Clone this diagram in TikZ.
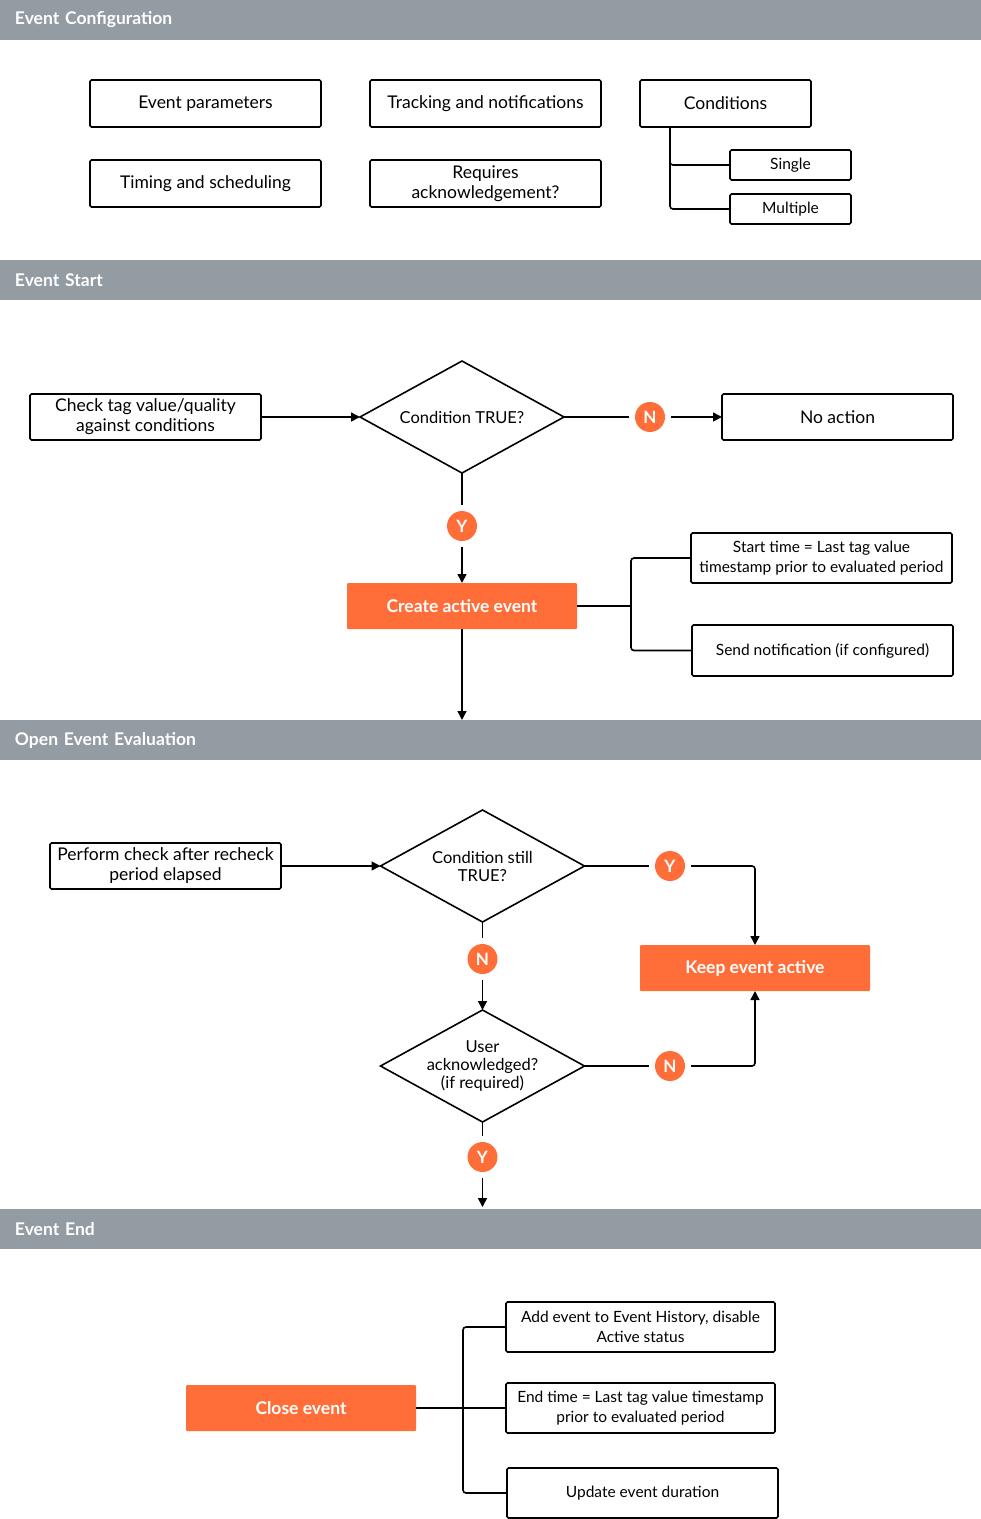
\documentclass[tikz,border=0pt]{standalone}
\usepackage{fontspec}
\setmainfont{Lato}
\usetikzlibrary{shapes.geometric,arrows.meta,calc}
\definecolor{hdrgray}{HTML}{939CA3}
\definecolor{orng}{HTML}{FF6E39}
\begin{document}
\begin{tikzpicture}[x=1pt,y=-1pt,
  every node/.style={inner sep=0pt, outer sep=0pt},
  hdr/.style={fill=hdrgray, anchor=north west, minimum width=981pt, minimum height=40pt, text width=951pt, align=left, text=white, font=\fontsize{17.5}{20}\selectfont\bfseries},
  box/.style={draw=black, line width=1.6pt, rounded corners=1.5pt, fill=white, align=center, font=\fontsize{17.5}{20}\selectfont},
  sbox/.style={box, font=\fontsize{15.5}{20}\selectfont},
  obox/.style={fill=orng, rounded corners=1pt, text=white, align=center, minimum width=230pt, minimum height=46pt, font=\fontsize{17.5}{20}\selectfont\bfseries},
  dia/.style={diamond, draw=black, line width=1.6pt, align=center, minimum width=204pt, minimum height=112pt, aspect=1.82, font=\fontsize{16.5}{18}\selectfont},
  yn/.style={circle, fill=orng, minimum size=30pt, text=white, font=\fontsize{17}{18}\selectfont\bfseries},
  ln/.style={line width=1.6pt},
  arr/.style={line width=1.6pt, -{Triangle[length=9pt,width=9pt]}},
]
\useasboundingbox (0,0) rectangle (981,1519);
% headers
\node[hdr] (h1) at (0,0) {Event Configuration};
\node[hdr] (h2) at (0,260) {Event Start};
\node[hdr] (h3) at (0,720) {Open Event Evaluation};
\node[hdr] (h4) at (0,1209) {Event End};

% Section 1
\node[box, minimum width=231pt, minimum height=47pt] (ep) at (205.5,103.5) {Event parameters};
\node[box, minimum width=231pt, minimum height=47pt] (ts) at (205.5,183.5) {Timing and scheduling};
\node[box, minimum width=231pt, minimum height=47pt] (tn) at (485.5,103.5) {Tracking and notifications};
\node[box, minimum width=231pt, minimum height=47pt] (ra) at (485.5,183.5) {Requires\\acknowledgement?};
\node[box, minimum width=171pt, minimum height=47pt] (co) at (725.5,103.5) {Conditions};
\node[sbox, minimum width=121pt, minimum height=30pt] (si) at (790.5,165) {Single};
\node[sbox, minimum width=121pt, minimum height=30pt] (mu) at (790.5,209) {Multiple};
\coordinate (cotrunk) at (670,127);
\draw[ln, rounded corners=3pt] (cotrunk) |- (si.west);
\draw[ln, rounded corners=3pt] (cotrunk) |- (mu.west);

% Section 2
\node[box, minimum width=231pt, minimum height=46pt] (ck) at (145.5,417) {Check tag value/quality\\against conditions};
\node[dia] (d1) at (462,417) {Condition TRUE?};
\node[yn] (n1) at (650,417) {N};
\node[box, minimum width=231pt, minimum height=46pt] (na) at (837.5,417) {No action};
\node[yn] (y1) at (462,526) {Y};
\node[obox] (cae) at (462,606) {Create active event};
\node[sbox, minimum width=261pt, minimum height=50pt] (st) at (821.5,558) {Start time = Last tag value\\timestamp prior to evaluated period};
\node[sbox, minimum width=261pt, minimum height=51pt] (sn) at (822.5,650.5) {Send notification (if configured)};
\coordinate (br1) at (631,606);
\coordinate (h3top) at (462,720);

\draw[arr] (ck.east) -- (d1.west);
\draw[ln] (d1.east) -- ($(n1.west)+(-6,0)$);
\draw[arr] ($(n1.east)+(6,0)$) -- (na.west);
\draw[ln] (d1.south) -- ($(y1.north)+(0,-6)$);
\draw[arr] ($(y1.south)+(0,6)$) -- (cae.north);
\draw[ln] (cae.east) -- (br1);
\draw[ln, rounded corners=3pt] (st.west) -| (br1) |- (sn.west);
\draw[arr] (cae.south) -- (h3top);

% Section 3
\node[box, minimum width=231pt, minimum height=46pt] (pc) at (165.5,866) {Perform check after recheck\\period elapsed};
\node[dia] (d2) at (482.5,866) {Condition still\\TRUE?};
\node[yn] (y2) at (670,866) {Y};
\node[obox] (kea) at (755,968) {Keep event active};
\node[yn] (n2) at (482.5,959) {N};
\node[dia] (d3) at (482.5,1066) {User\\acknowledged?\\(if required)};
\node[yn] (n3) at (670,1066) {N};
\node[yn] (y3) at (482.5,1157) {Y};
\coordinate (h4top) at (482.5,1207);

\draw[arr] (pc.east) -- (d2.west);
\draw[ln] (d2.east) -- ($(y2.west)+(-6,0)$);
\draw[arr, rounded corners=3pt] ($(y2.east)+(6,0)$) -| (kea.north);
\draw[ln] (d2.south) -- ($(n2.north)+(0,-6)$);
\draw[arr] ($(n2.south)+(0,6)$) -- (d3.north);
\draw[ln] (d3.east) -- ($(n3.west)+(-6,0)$);
\draw[arr, rounded corners=3pt] ($(n3.east)+(6,0)$) -| (kea.south);
\draw[ln] (d3.south) -- ($(y3.north)+(0,-6)$);
\draw[arr] ($(y3.south)+(0,6)$) -- (h4top);

% Section 4
\node[obox] (ce) at (301,1408) {Close event};
\node[sbox, minimum width=269pt, minimum height=50pt] (ae) at (640.5,1327) {Add event to Event History, disable\\Active status};
\node[sbox, minimum width=269pt, minimum height=50pt] (et) at (640.5,1408) {End time = Last tag value timestamp\\prior to evaluated period};
\node[sbox, minimum width=271pt, minimum height=50pt] (ud) at (642.5,1493) {Update event duration};
\draw[ln] (ce.east) -- (et.west);
\draw[ln, rounded corners=3pt] (ae.west) -| (463,1408) |- (ud.west);
\end{tikzpicture}
\end{document}
